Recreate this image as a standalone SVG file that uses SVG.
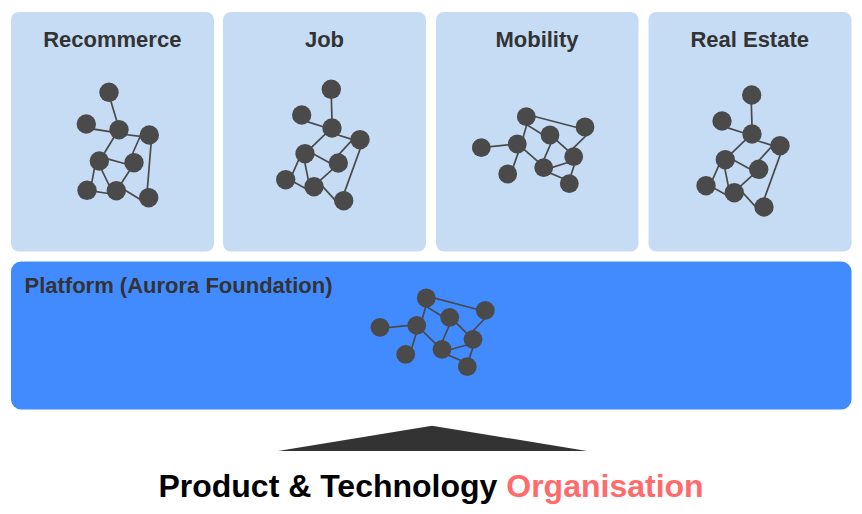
<svg xmlns="http://www.w3.org/2000/svg" width="862" height="514" viewBox="0 0 862 514">
<style>
text{font-family:"Liberation Sans",Arial,sans-serif;font-weight:700;fill:#333}
.t{font-size:22px;text-anchor:middle}
.p{fill:#c6dcf4}
.n circle{fill:#4a4a4a}
.e line{stroke:#4a4a4a;stroke-width:1.700;stroke-linecap:square}
</style>
<rect width="862" height="514" fill="#fff"/>
<g id="panel-recommerce"><rect class="p" x="11" y="12" width="203" height="239.500" rx="8"/><text class="t" x="112.300" y="47">Recommerce</text></g>
<g id="panel-job"><rect class="p" x="223" y="12" width="203" height="239.500" rx="8"/><text class="t" x="324.500" y="47">Job</text></g>
<g id="panel-mobility"><rect class="p" x="436" y="12" width="202.500" height="239.500" rx="8"/><text class="t" x="537" y="47">Mobility</text></g>
<g id="panel-real-estate"><rect class="p" x="648.500" y="12" width="203" height="239.500" rx="8"/><text class="t" x="749.700" y="47">Real Estate</text></g>
<g id="platform"><rect x="11" y="261.500" width="840.500" height="148" rx="10" fill="#428bff"/><text x="24.500" y="292.500" font-size="22">Platform (Aurora Foundation)</text></g>
<g id="connectors" class="e">
<line x1="110.500" y1="100" x2="117.300" y2="122.700"/><line x1="94" y1="129.200" x2="112" y2="132"/><line x1="127" y1="134.800" x2="142" y2="136.500"/><line x1="114.300" y1="136.700" x2="103" y2="155.300"/><line x1="141" y1="134.500" x2="131.500" y2="156"/><line x1="151.200" y1="142" x2="147.100" y2="192"/><line x1="107.500" y1="158.800" x2="127" y2="164.300"/><line x1="94.600" y1="167.300" x2="91.600" y2="183.700"/><line x1="100.800" y1="168" x2="110" y2="187"/><line x1="130" y1="170" x2="120.700" y2="184.300"/><line x1="94" y1="191.400" x2="109.300" y2="193.600"/><line x1="124.300" y1="189.700" x2="142" y2="200.500"/>
<line x1="331.300" y1="96.700" x2="332" y2="120.300"/><line x1="306.300" y1="121.400" x2="324.700" y2="127.300"/><line x1="337.300" y1="134.700" x2="352.700" y2="139.600"/><line x1="325.700" y1="133.700" x2="310.800" y2="148.100"/><line x1="352" y1="140.200" x2="338" y2="155.500"/><line x1="360.700" y1="147.400" x2="344" y2="193.600"/><line x1="313" y1="153.700" x2="331" y2="163.700"/><line x1="299.100" y1="158.900" x2="291.900" y2="175.100"/><line x1="304.600" y1="161.300" x2="308.400" y2="180.300"/><line x1="333.200" y1="168.700" x2="319.200" y2="181.300"/><line x1="291.500" y1="180.700" x2="307.100" y2="189.300"/><line x1="322" y1="185.800" x2="336.300" y2="201.500"/>
<line x1="533.700" y1="116.200" x2="578" y2="127.800"/><line x1="525.600" y1="124" x2="543.400" y2="135"/><line x1="527.200" y1="123" x2="522.800" y2="138.700"/><line x1="488.700" y1="146.900" x2="510.300" y2="144.500"/><line x1="518.700" y1="151.400" x2="512.600" y2="168.600"/><line x1="523.200" y1="148.700" x2="538.800" y2="162.300"/><line x1="551.500" y1="142.200" x2="543.200" y2="161.100"/><line x1="555.800" y1="139.700" x2="568.800" y2="151.300"/><line x1="587.100" y1="134.600" x2="572.600" y2="148.700"/><line x1="570.200" y1="161.700" x2="550.800" y2="167.900"/><line x1="574.900" y1="163.100" x2="570.400" y2="176.900"/><line x1="548.900" y1="172.500" x2="562.800" y2="178.500"/>
<line x1="751.300" y1="102.700" x2="752" y2="126.300"/><line x1="726.300" y1="127.400" x2="744.700" y2="133.300"/><line x1="757.300" y1="140.700" x2="772.700" y2="145.600"/><line x1="745.700" y1="139.700" x2="730.800" y2="154.100"/><line x1="772" y1="146.200" x2="758" y2="161.500"/><line x1="780.700" y1="153.400" x2="764" y2="199.600"/><line x1="733" y1="159.700" x2="751" y2="169.700"/><line x1="719.100" y1="164.900" x2="711.900" y2="181.100"/><line x1="724.600" y1="167.300" x2="728.400" y2="186.300"/><line x1="753.200" y1="174.700" x2="739.200" y2="187.300"/><line x1="711.500" y1="186.700" x2="727.100" y2="195.300"/><line x1="742" y1="191.800" x2="756.300" y2="207.500"/>
<line x1="433.700" y1="297.800" x2="478.700" y2="309.800"/><line x1="425" y1="305.700" x2="443.400" y2="317"/><line x1="426.200" y1="304.800" x2="422.200" y2="319.200"/><line x1="387.300" y1="327.500" x2="409.300" y2="325.500"/><line x1="416.600" y1="332" x2="411.100" y2="350.300"/><line x1="421.900" y1="330.300" x2="436.700" y2="344.700"/><line x1="449.800" y1="324.200" x2="441.900" y2="342.500"/><line x1="455.300" y1="321.900" x2="467.400" y2="334.100"/><line x1="485.400" y1="317.900" x2="471.900" y2="332.100"/><line x1="468" y1="344.800" x2="449.300" y2="349.800"/><line x1="473.400" y1="346.300" x2="468.600" y2="360.300"/><line x1="447.400" y1="354.900" x2="461.900" y2="361"/>
</g>
<g id="graph-recommerce" class="n"><circle cx="109" cy="92.300" r="9.700"/><circle cx="86.300" cy="124" r="9.700"/><circle cx="119" cy="129.700" r="9.700"/><circle cx="149.300" cy="135" r="9.700"/><circle cx="99.300" cy="161" r="9.700"/><circle cx="134" cy="162.700" r="9.700"/><circle cx="87" cy="190.300" r="9.700"/><circle cx="116.300" cy="190.700" r="9.700"/><circle cx="148.700" cy="197.700" r="9.700"/></g>
<g id="graph-job" class="n"><circle cx="331.300" cy="89.300" r="9.700"/><circle cx="301.700" cy="115" r="9.700"/><circle cx="332" cy="128" r="9.700"/><circle cx="360" cy="139.700" r="9.700"/><circle cx="305" cy="153.700" r="9.700"/><circle cx="338.300" cy="163" r="9.700"/><circle cx="285.700" cy="179.700" r="9.700"/><circle cx="314" cy="186.700" r="9.700"/><circle cx="343.700" cy="200.700" r="9.700"/></g>
<g id="graph-mobility" class="n"><circle cx="526.300" cy="116.700" r="9.400"/><circle cx="585" cy="127" r="9.400"/><circle cx="550" cy="135" r="9.400"/><circle cx="517.300" cy="144" r="9.400"/><circle cx="481.300" cy="147.700" r="9.400"/><circle cx="573.700" cy="156.700" r="9.400"/><circle cx="543.700" cy="167.700" r="9.400"/><circle cx="507.700" cy="174" r="9.400"/><circle cx="569.300" cy="183.700" r="9.400"/></g>
<g id="graph-real-estate" class="n"><circle cx="751.700" cy="95" r="9.700"/><circle cx="722" cy="121" r="9.700"/><circle cx="752" cy="134" r="9.700"/><circle cx="780" cy="145.700" r="9.700"/><circle cx="725.300" cy="159.700" r="9.700"/><circle cx="758.700" cy="169.300" r="9.700"/><circle cx="706" cy="185.700" r="9.700"/><circle cx="734.300" cy="192.700" r="9.700"/><circle cx="764" cy="207" r="9.700"/></g>
<g id="graph-platform" class="n"><circle cx="426.300" cy="298" r="9.400"/><circle cx="485.300" cy="310.300" r="9.400"/><circle cx="449.700" cy="317.300" r="9.400"/><circle cx="416.700" cy="325.300" r="9.400"/><circle cx="380" cy="327.300" r="9.400"/><circle cx="473" cy="339.300" r="9.400"/><circle cx="442" cy="349.300" r="9.400"/><circle cx="405.700" cy="354.300" r="9.400"/><circle cx="467.300" cy="366.700" r="9.400"/></g>
<polygon id="pyramid" points="278,451 432,425.700 587,451" fill="#333"/>
<text id="caption" x="431" y="497" font-size="32" text-anchor="middle" style="fill:#000">Product &amp; Technology <tspan style="fill:#ff6b6b">Organisation</tspan></text>
</svg>
